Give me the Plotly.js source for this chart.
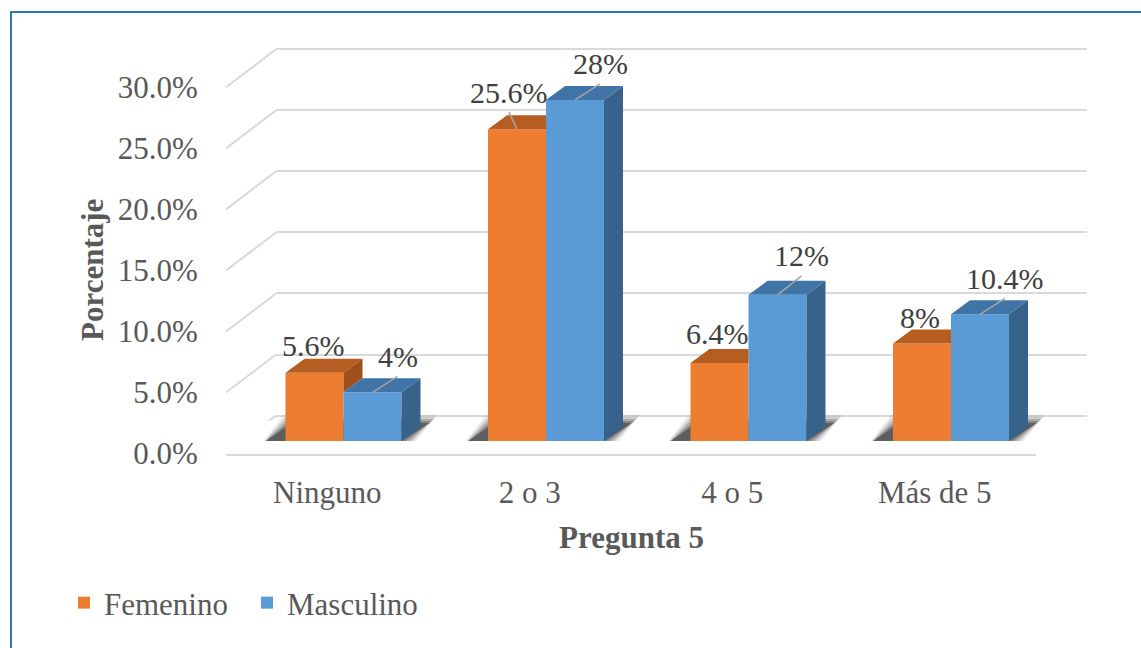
<!DOCTYPE html>
<html>
<head>
<meta charset="utf-8">
<script src="https://cdn.plot.ly/plotly-3.0.1.min.js"></script>
<style>html,body{margin:0;padding:0;background:#fff}#chart{width:1141px;height:648px}</style>
</head>
<body>
<div id="chart"></div>
<script>
// ---- data ----
const categories = ['Ninguno', '2 o 3', '4 o 5', 'Más de 5'];
const femenino = [5.6, 25.6, 6.4, 8];
const masculino = [4, 28, 12, 10.4];
const seriesNames = ['Femenino', 'Masculino'];
const yTickVals = [0, 5, 10, 15, 20, 25, 30];
const yTickText = yTickVals.map(v => v.toFixed(1) + '%');
const xTitle = 'Pregunta 5';
const yTitle = 'Porcentaje';

// ---- layout geometry (pixels) ----
const W = 1141, H = 648;
const px = p => p / W, py = p => 1 - p / H;
const yRange = [0, 30];
const frontX = [226, 1036], frontY = [453.5, 87.3];   // front plane (tick labels, floor edge)
const backX = [276, 1087], backY = [415.6, 49.3];     // back wall (gridlines)
const barX = [242.25, 1052.25], barY = [441, 75.6];   // bar plane
const bargap = 0.4272;
const depthPx = [19, 14];
const diagDrop = 38;
const gridPad = 0.4;   // keeps the 0 and 30 gridlines off the plot edges

const colors = {
  fem: '#ED7D31', femTop: '#B65E22', femSide: '#A0501C',
  mas: '#5B9BD5', masTop: '#4174A6', masSide: '#37628A',
  grid: '#D9D9D9', text: '#595959', label: '#404040'
};
const FONT = 'Liberation Serif';

// unit conversions for the bar subplot
const pxPerX = (barX[1] - barX[0]) / 4;
const pxPerY = (barY[0] - barY[1]) / (yRange[1] - yRange[0]);
const sx = 1 / pxPerX, sy = 1 / pxPerY;
const dx = depthPx[0] * sx, dy = depthPx[1] * sy;
const q = (1 - bargap) / 4;   // half bar width and center offset
const backPxPerY = (backY[0] - backY[1]) / (yRange[1] - yRange[0]);

const idx = categories.map((c, i) => i);

const traces = [
  {type: 'bar', x: idx, y: femenino, name: seriesNames[0], xaxis: 'x2', yaxis: 'y2',
   marker: {color: colors.fem}, hovertemplate: '%{y}%<extra>' + seriesNames[0] + '</extra>'},
  {type: 'bar', x: idx, y: masculino, name: seriesNames[1], xaxis: 'x2', yaxis: 'y2',
   marker: {color: colors.mas}, hovertemplate: '%{y}%<extra>' + seriesNames[1] + '</extra>'},
  // invisible helper so the front-plane category axis is drawn
  {type: 'scatter', mode: 'markers', x: categories, y: femenino, xaxis: 'x3', yaxis: 'y3',
   marker: {opacity: 0}, showlegend: false, hoverinfo: 'skip'}
];

const shapes = [];
// diagonal gridlines from front plane to back wall
yTickVals.forEach(v => {
  shapes.push({type: 'line', xref: 'paper', yref: 'y', ysizemode: 'pixel', yanchor: v,
    x0: px(frontX[0]), x1: px(backX[0]), y0: -diagDrop, y1: 0,
    line: {color: colors.grid, width: 2}, layer: 'below'});
});

function poly(pts) {
  return 'M' + pts.map(p => p[0].toFixed(4) + ',' + p[1].toFixed(4)).join(' L') + ' Z';
}

// shadows + 3D faces
idx.forEach(i => {
  const vf = femenino[i], vm = masculino[i];
  const fl = i - 2 * q, fr = i;           // orange bar x extents
  const ml = i, mr = i + 2 * q;           // blue bar x extents
  // soft shadow on the floor: blurred parallelogram, layered
  [[7, 0.08], [5, 0.12], [3, 0.16], [1, 0.22], [-1, 0.3]].forEach(([e, a]) => {
    shapes.push({type: 'path', xref: 'x2', yref: 'y2', layer: 'below',
      path: poly([
        [fl - (22 + e) * sx, -(2 + e) * sy],
        [mr + e * sx, -(2 + e) * sy],
        [mr + (29 + e) * sx, (19 + e) * sy],
        [fl + (5 - e) * sx, (19 + e) * sy]]),
      fillcolor: 'rgba(0,0,0,' + a + ')', line: {width: 0}});
  });
  // orange top face (clipped where the blue bar in front is taller)
  const fTop = vm > vf
    ? [[fl, vf], [fr, vf], [fr, vf + dy], [fl + dx, vf + dy]]
    : [[fl, vf], [fr, vf], [fr + dx, vf + dy], [fl + dx, vf + dy]];
  shapes.push({type: 'path', xref: 'x2', yref: 'y2', layer: 'above', path: poly(fTop),
    fillcolor: colors.femTop, line: {width: 0}});
  // orange side face visible above blue bar
  if (vf > vm) {
    shapes.push({type: 'path', xref: 'x2', yref: 'y2', layer: 'above',
      path: poly([[fr, vf], [fr + dx, vf + dy], [fr + dx, vm + dy], [fr, vm]]),
      fillcolor: colors.femSide, line: {width: 0}});
  }
  // blue side + top faces
  shapes.push({type: 'path', xref: 'x2', yref: 'y2', layer: 'above',
    path: poly([[mr, 0], [mr + dx, dy], [mr + dx, vm + dy], [mr, vm]]),
    fillcolor: colors.masSide, line: {width: 0}});
  shapes.push({type: 'path', xref: 'x2', yref: 'y2', layer: 'above',
    path: poly([[ml, vm], [mr, vm], [mr + dx, vm + dy], [ml + dx, vm + dy]]),
    fillcolor: colors.masTop, line: {width: 0}});
});

// data labels (offsets from front-top centre of each bar, screen pixels)
const femShift = [[-1.5, -27], [-8, -37], [-2.5, -30], [-2, -26]];
const masShift = [[25, -36], [25, -36], [24, -39], [25, -36]];
const annotations = [];
[[femenino, femShift, -q], [masculino, masShift, q]].forEach(([vals, shifts, off]) => {
  vals.forEach((v, i) => {
    const c = i + off, s = shifts[i];
    annotations.push({xref: 'x2', yref: 'y2', x: c, y: v, text: v + '%', showarrow: false,
      xanchor: 'center', yanchor: 'middle', xshift: s[0], yshift: -s[1],
      font: {family: FONT, size: 30, color: colors.label}});
    if (s[1] <= -35) {
      shapes.push({type: 'line', xref: 'x2', yref: 'y2', xsizemode: 'pixel', ysizemode: 'pixel',
        xanchor: c, yanchor: v, x0: 0, y0: 0, x1: s[0], y1: -(s[1] + 20),
        line: {color: '#A6A6A6', width: 1.5}, layer: 'above'});
    }
  });
});

annotations.push({xref: 'paper', yref: 'paper', x: px(92), y: py(270), text: '<b>' + yTitle + '</b>',
  textangle: -90, showarrow: false, xanchor: 'center', yanchor: 'middle',
  font: {family: FONT, size: 31, color: colors.text}});
annotations.push({xref: 'paper', yref: 'paper', x: px(631), y: py(537), text: '<b>' + xTitle + '</b>',
  showarrow: false, xanchor: 'center', yanchor: 'middle',
  font: {family: FONT, size: 31, color: colors.text}});

// chart border
shapes.push({type: 'rect', xref: 'paper', yref: 'paper', x0: px(11), x1: 1.05, y0: -0.05, y1: py(12),
  line: {color: '#2E75B6', width: 2}, fillcolor: 'rgba(0,0,0,0)', layer: 'above'});

const hidden = {showgrid: false, zeroline: false, showline: false, showticklabels: false, ticks: '', fixedrange: true};

const layout = {
  width: W, height: H,
  margin: {l: 0, r: 0, t: 0, b: 0, pad: 0},
  paper_bgcolor: '#ffffff', plot_bgcolor: 'rgba(0,0,0,0)',
  barmode: 'group', bargap: bargap, bargroupgap: 0,
  font: {family: FONT, color: colors.text, size: 31},
  xaxis: Object.assign({}, hidden, {domain: [px(backX[0]), px(backX[1])], range: [-0.5, 3.5], anchor: 'y'}),
  yaxis: Object.assign({}, hidden, {
    domain: [py(backY[0] + gridPad * backPxPerY), py(backY[1] - gridPad * backPxPerY)],
    range: [yRange[0] - gridPad, yRange[1] + gridPad],
    anchor: 'x', showgrid: true, gridcolor: colors.grid, gridwidth: 2, tickmode: 'array', tickvals: yTickVals}),
  xaxis2: Object.assign({}, hidden, {domain: [px(barX[0]), px(barX[1])], range: [-0.5, 3.5], anchor: 'y2'}),
  yaxis2: Object.assign({}, hidden, {domain: [py(barY[0]), py(barY[1])], range: yRange, anchor: 'x2'}),
  xaxis3: {type: 'category', domain: [px(frontX[0]), px(frontX[1])], range: [-0.5, 3.5], anchor: 'y3',
    showgrid: false, zeroline: false,
    showline: true, linecolor: colors.grid, linewidth: 2, ticks: 'outside', ticklen: 10,
    tickcolor: 'rgba(0,0,0,0)', tickfont: {family: FONT, size: 31, color: colors.text}, fixedrange: true},
  yaxis3: {domain: [py(frontY[0]), py(frontY[1])], range: yRange, anchor: 'x3',
    tickmode: 'array', tickvals: yTickVals, ticktext: yTickText, showgrid: false,
    zeroline: false, showline: false, ticks: 'outside', ticklen: 21, tickcolor: 'rgba(0,0,0,0)',
    tickfont: {family: FONT, size: 31, color: colors.text}, fixedrange: true},
  showlegend: true,
  legend: {orientation: 'h', x: px(64), y: py(603), xanchor: 'left', yanchor: 'middle',
    entrywidth: 138, entrywidthmode: 'pixels',
    font: {family: FONT, size: 31, color: colors.text}, bgcolor: 'rgba(0,0,0,0)', traceorder: 'normal'},
  shapes: shapes,
  annotations: annotations
};

Plotly.newPlot('chart', traces, layout, {displayModeBar: false});
</script>
</body>
</html>
